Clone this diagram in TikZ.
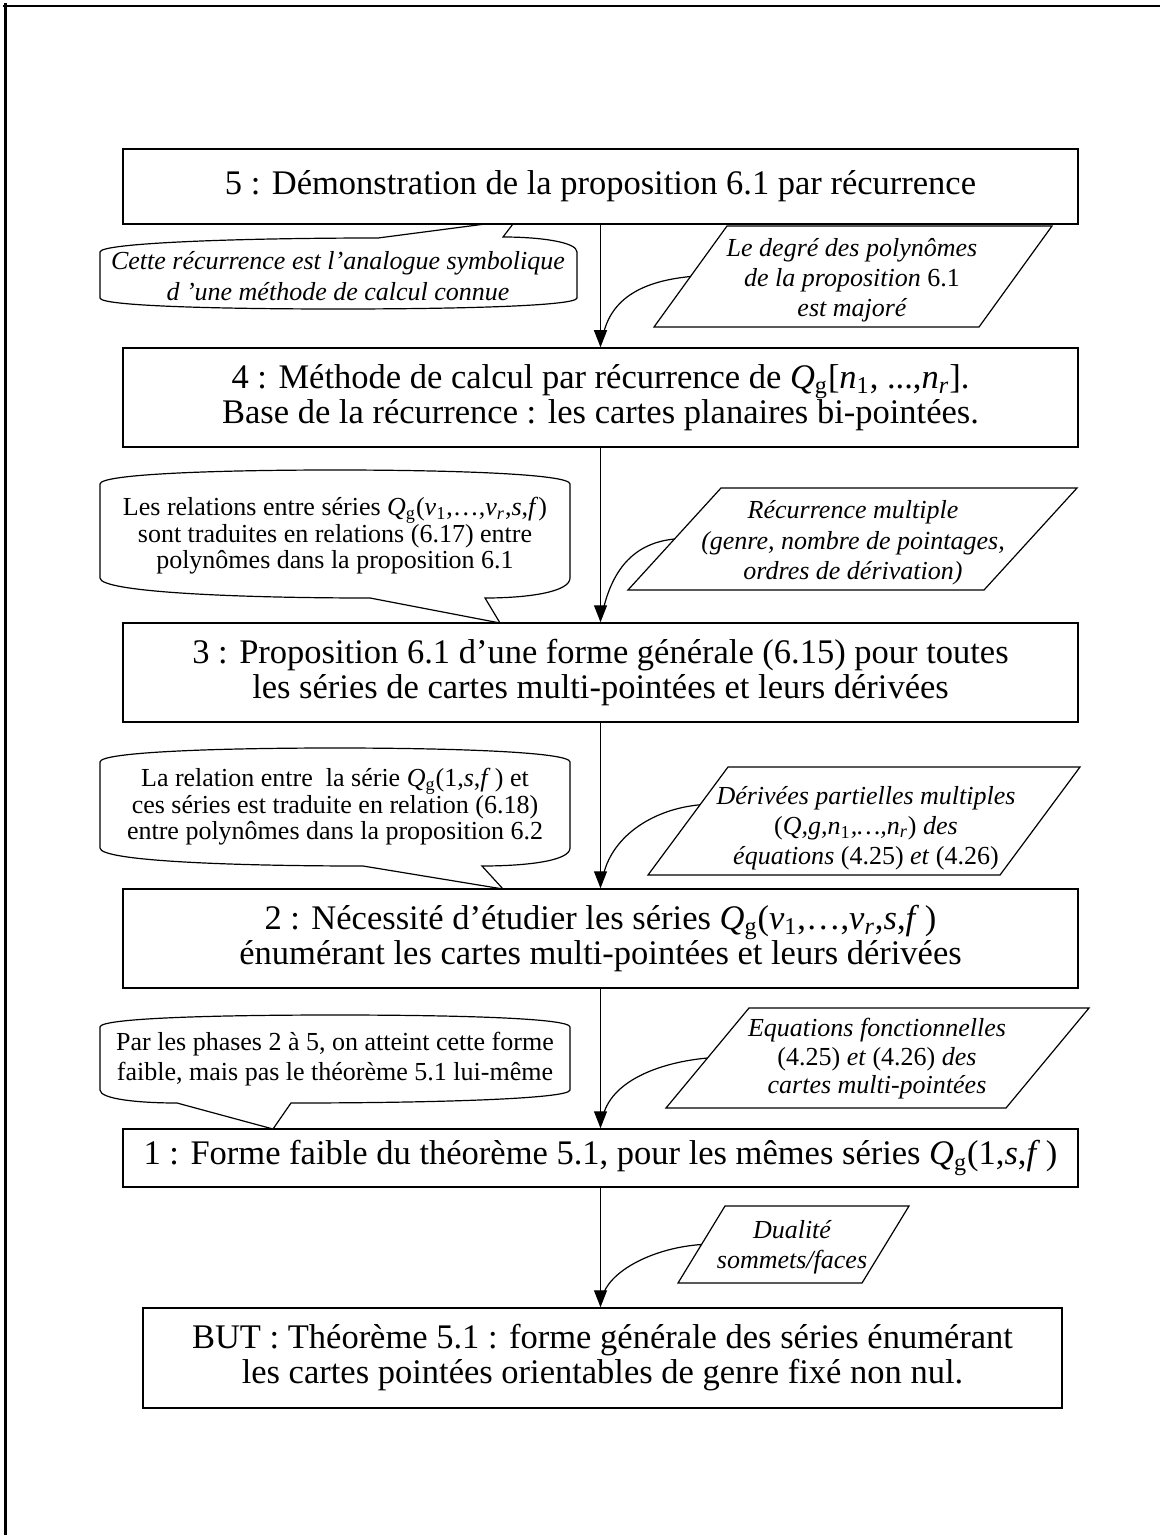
\documentclass[tikz,border=0pt]{standalone}
\usepackage{fontspec}
\setmainfont{Liberation Serif}
\usetikzlibrary{arrows.meta,calc}

\newcommand{\bigtxt}{\fontsize{17.25pt}{17.5pt}\selectfont}
\newcommand{\smalltxt}{\fontsize{13pt}{15pt}\selectfont}
\newcommand{\Qg}{\textit{Q}\textsubscript{g}}

\tikzset{
  stage/.style={draw, line width=0.75pt, fill=white, minimum width=477.5pt,
    inner sep=0pt, align=center, font=\bigtxt},
  note/.style={inner sep=0pt, align=center, font=\smalltxt},
  shelf/.style={draw, line width=0.6pt, fill=white, line join=miter},
  bubble/.style={draw, line width=0.6pt, fill=white, line join=miter},
  flow/.style={line width=0.6pt, -{Triangle[length=8.5pt,width=6.5pt]}},
  feed/.style={line width=0.6pt},
  frame/.style={line width=1.25pt},
}

\begin{document}
\begin{tikzpicture}[x=0.5pt,y=-0.5pt]
\useasboundingbox (0,0) rectangle (1160,1535);

% page frame: top and left rules
\draw[frame] (3,6) -- (1160,6);
\draw[frame] (5.5,3) -- (5.5,1535);

% callout under stage 5 (its tail tucks under the box)
\draw[bubble] (100,252) .. controls (100,243) and (239,238) .. (378,238)
  -- (516,220) -- (503,237) .. controls (540,237) and (577,242) .. (577,252)
  -- (577,298) .. controls (577,306) and (458,309) .. (338,309)
  .. controls (219,309) and (100,306) .. (100,298) -- cycle;
\node[note, font={\fontsize{13pt}{15.8pt}\selectfont\itshape}] (na) at (338,276)
  {Cette récurrence est l’analogue symbolique\\d ’une méthode de calcul connue};

% the stages
\node[stage, minimum height=37.5pt] (s5) at (600.5,186.5)
  {5 : Démonstration de la proposition 6.1 par récurrence};
\node[stage, minimum height=49.5pt] (s4) at (600.5,397.5)
  {4 : Méthode de calcul par récurrence de \Qg[\textit{n}\textsubscript{1}, ...,\textit{n}\textsubscript{\textit{r}}].\\
   Base de la récurrence : les cartes planaires bi-pointées.};
\node[stage, minimum height=49.5pt] (s3) at (600.5,672.5)
  {3 : Proposition 6.1 d’une forme générale (6.15) pour toutes\\
   les séries de cartes multi-pointées et leurs dérivées};
\node[stage, minimum height=49.5pt] (s2) at (600.5,938.5)
  {2 : Nécessité d’étudier les séries \Qg(\textit{v}\textsubscript{1},…,\textit{v}\textsubscript{\textit{r}},\textit{s},\textit{f}\,)\\
   énumérant les cartes multi-pointées et leurs dérivées};
\node[stage, minimum height=29pt] (s1) at (600.5,1158)
  {1 : Forme faible du théorème 5.1, pour les mêmes séries \Qg(1,\textit{s},\textit{f}\,)};
\node[stage, minimum width=459.5pt, minimum height=50pt] (goal) at (602.5,1358)
  {BUT : Théorème 5.1 : forme générale des séries énumérant\\
   les cartes pointées orientables de genre fixé non nul.};

% callout between stages 4 and 3
\draw[bubble] (100,484) .. controls (100,474) and (218,470) .. (335,470)
  .. controls (452,470) and (570,474) .. (570,484)
  -- (570,578) .. controls (570,592) and (528,598) .. (485,598)
  -- (500,623) -- (370,598) .. controls (235,598) and (100,592) .. (100,578) -- cycle;
\node[note, font={\fontsize{13pt}{13.3pt}\selectfont}] (nb) at (335,536)
  {Les relations entre séries \Qg(\textit{v}\textsubscript{1},…,\textit{v}\textsubscript{\textit{r}},\textit{s},\textit{f})\\
   sont traduites en relations (6.17) entre\\
   polynômes dans la proposition 6.1};

% callout between stages 3 and 2
\draw[bubble] (100,762) .. controls (100,752) and (218,748) .. (335,748)
  .. controls (452,748) and (570,752) .. (570,762)
  -- (570,848) .. controls (570,861) and (526,866) .. (482,866)
  -- (503,889) -- (363,866) .. controls (232,866) and (100,861) .. (100,848) -- cycle;
\node[note, font={\fontsize{13pt}{13.3pt}\selectfont}] (nc) at (335,807)
  {La relation entre\ \ la série \Qg(1,\textit{s},\textit{f}\,) et\\
   ces séries est traduite en relation (6.18)\\
   entre polynômes dans la proposition 6.2};

% callout between stages 2 and 1
\draw[bubble] (100,1027) .. controls (100,1018) and (218,1015) .. (335,1015)
  .. controls (452,1015) and (570,1018) .. (570,1027)
  -- (570,1090) .. controls (570,1099) and (430,1103) .. (291,1103)
  -- (273,1129) -- (177,1103) .. controls (138,1103) and (100,1099) .. (100,1090) -- cycle;
\node[note, font={\fontsize{13pt}{14.8pt}\selectfont}] (nd) at (335,1059)
  {Par les phases 2 à 5, on atteint cette forme\\
   faible, mais pas le théorème 5.1 lui-même};

% inputs (parallelograms): bottom-left corner, then bottom width, slant and height
\coordinate (pa) at (654,327);
\draw[shelf] (pa) -- ++(325,0) -- ++(73,-101) -- ++(-325,0) -- cycle;
\coordinate (paL) at ($(pa)+(36.5,-50.5)$);
\node[note, font={\fontsize{13pt}{15pt}\selectfont\itshape}] (pat) at (852,280)
  {Le degré des polynômes\\de la proposition \textup{6.1}\\est majoré};

\coordinate (pb) at (628,590);
\draw[shelf] (pb) -- ++(356,0) -- ++(93,-102) -- ++(-356,0) -- cycle;
\coordinate (pbL) at ($(pb)+(46.5,-51)$);
\node[note, font={\fontsize{13pt}{15.3pt}\selectfont\itshape}] (pbt) at (853,543)
  {Récurrence multiple\\(genre, nombre de pointages,\\ordres de dérivation)};

\coordinate (pc) at (648,875);
\draw[shelf] (pc) -- ++(352,0) -- ++(80,-108) -- ++(-352,0) -- cycle;
\coordinate (pcL) at ($(pc)+(52,-70.2)$);
\node[note, font={\fontsize{13pt}{15pt}\selectfont\itshape}] (pct) at (866,828)
  {Dérivées partielles multiples\\\textup{(}\textit{Q,g,n}\textsubscript{\upshape 1},…,\textit{n}\textsubscript{\textit{r}}\textup{)} des\\équations \textup{(4.25)} et \textup{(4.26)}};

\coordinate (pd) at (666,1108);
\draw[shelf] (pd) -- ++(340,0) -- ++(83,-100) -- ++(-340,0) -- cycle;
\coordinate (pdL) at ($(pd)+(41.5,-50)$);
\node[note, font={\fontsize{13pt}{14.2pt}\selectfont\itshape}] (pdt) at (877,1059)
  {Equations fonctionnelles\\\textup{(4.25)} et \textup{(4.26)} des\\cartes multi-pointées};

\coordinate (pe) at (678,1283);
\draw[shelf] (pe) -- ++(184,0) -- ++(47,-77) -- ++(-184,0) -- cycle;
\coordinate (peL) at ($(pe)+(23.5,-38.5)$);
\node[note, font={\fontsize{13pt}{15pt}\selectfont\itshape}] (pet) at (792,1247)
  {Dualité\\sommets/faces};

% main flow
\draw[flow] (s5.south) -- (s4.north);
\draw[flow] (s4.south) -- (s3.north);
\draw[flow] (s3.south) -- (s2.north);
\draw[flow] (s2.south) -- (s1.north);
\draw[flow] (s1.south) -- (s1.south |- goal.north);

% inputs feeding the flow, merging into the arrowheads
\draw[feed] (paL) .. controls +(-40,4) and +(10,-40) .. ($(s4.north)+(3,-14)$);
\draw[feed] (pbL) .. controls +(-40,4) and +(10,-40) .. ($(s3.north)+(3,-14)$);
\draw[feed] (pcL) .. controls +(-45,4) and +(10,-40) .. ($(s2.north)+(3,-14)$);
\draw[feed] (pdL) .. controls +(-45,4) and +(10,-35) .. ($(s1.north)+(3,-14)$);
\draw[feed] (peL) .. controls +(-45,3) and +(10,-25) .. ($(s1.south |- goal.north)+(3,-14)$);
\end{tikzpicture}
\end{document}
